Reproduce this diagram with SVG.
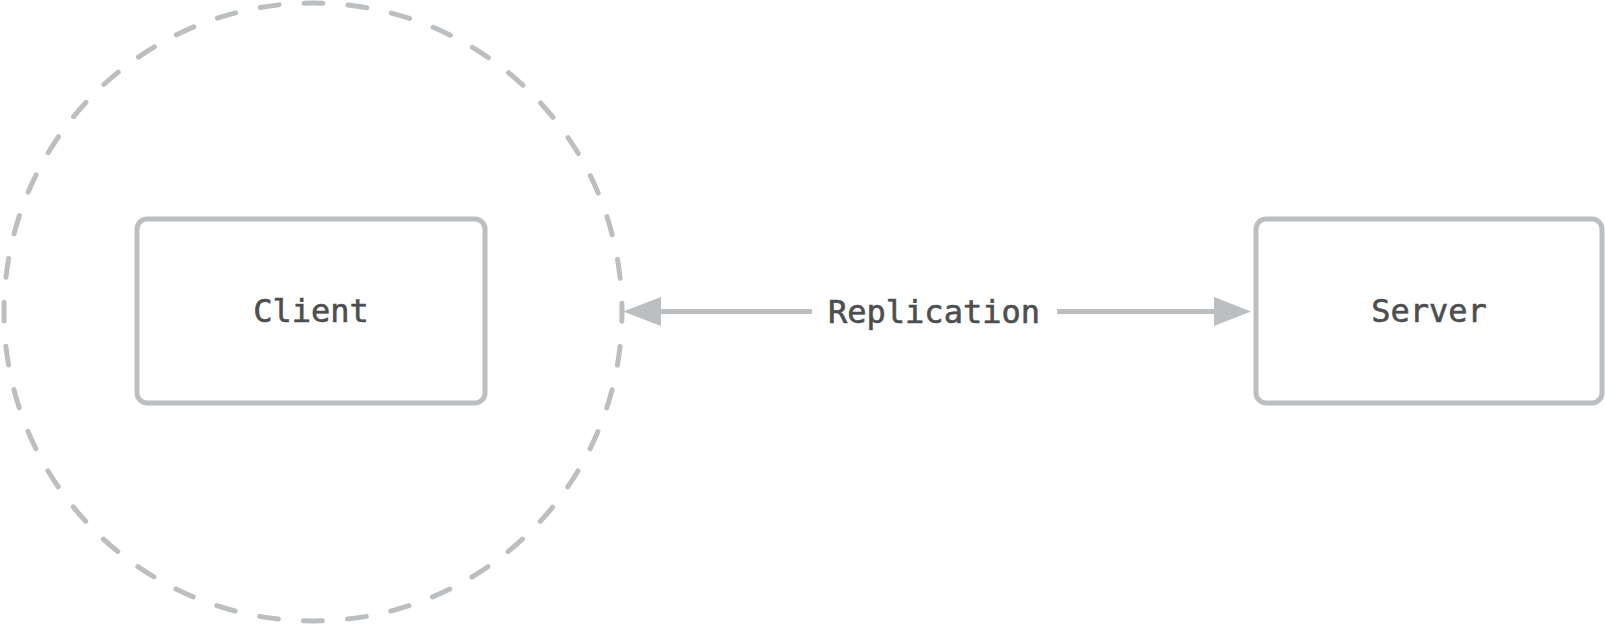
<svg xmlns="http://www.w3.org/2000/svg" width="1605" height="625" viewBox="0 0 1605 625">
<style>
.box{fill:#fff;stroke:#BCBFC1;stroke-width:5}
.lbl{font-family:"DejaVu Sans Mono","Liberation Mono",monospace;font-size:32px;fill:#4D4E50;stroke:#4D4E50;stroke-width:0.6;text-anchor:middle}
.edge{stroke:#BCBFC1;stroke-width:5;fill:none}
.head{fill:#BCBFC1}
</style>
<rect width="1605" height="625" fill="#fff"/>
<g id="boundary">
<circle cx="313" cy="312" r="309" fill="none" stroke="#BCBFC1" stroke-width="5" stroke-dasharray="19 25.125" stroke-dashoffset="9.6" stroke-linecap="round"/>
</g>
<g id="client">
<rect class="box" x="137" y="219" width="348" height="184" rx="10"/>
<text class="lbl" x="311" y="322">Client</text>
</g>
<g id="server">
<rect class="box" x="1256" y="219" width="346" height="184" rx="10"/>
<text class="lbl" x="1429" y="322">Server</text>
</g>
<g id="connectors">
<line class="edge" x1="660" y1="311.5" x2="812" y2="311.5"/>
<polygon class="head" points="623,311.5 661,297 661,326"/>
<line class="edge" x1="1057" y1="311.5" x2="1215" y2="311.5"/>
<polygon class="head" points="1251,311.5 1214,297 1214,326"/>
<text class="lbl" x="934" y="323">Replication</text>
</g>
</svg>
